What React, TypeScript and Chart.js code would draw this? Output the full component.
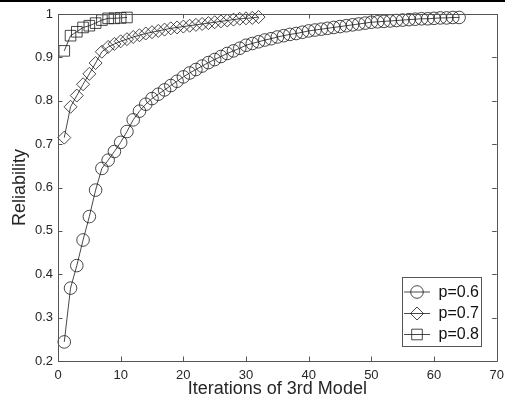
import React, { useEffect, useRef } from "react";
import { Chart, registerables } from "chart.js";

Chart.register(...registerables);

// Reliability values per iteration (iteration index = position + 1)
const p06 = [
  0.244, 0.368, 0.420, 0.479, 0.533, 0.594, 0.644, 0.663, 0.683, 0.704,
  0.729, 0.756, 0.776, 0.792, 0.805, 0.815, 0.825, 0.835, 0.845, 0.855,
  0.864, 0.872, 0.880, 0.888, 0.895, 0.902, 0.909, 0.915, 0.921, 0.928,
  0.932, 0.936, 0.940, 0.943, 0.947, 0.950, 0.953, 0.955, 0.958, 0.961,
  0.963, 0.965, 0.967, 0.969, 0.971, 0.973, 0.975, 0.977, 0.979, 0.981,
  0.982, 0.983, 0.984, 0.985, 0.986, 0.987, 0.988, 0.989, 0.989, 0.990,
  0.991, 0.991, 0.992, 0.992,
];
const p07 = [
  0.715, 0.786, 0.812, 0.838, 0.862, 0.887, 0.913, 0.924, 0.931, 0.937,
  0.942, 0.947, 0.951, 0.955, 0.958, 0.961, 0.964, 0.967, 0.969, 0.971,
  0.973, 0.975, 0.977, 0.979, 0.981, 0.983, 0.985, 0.987, 0.989, 0.990,
  0.991, 0.993,
];
const p08 = [
  0.915, 0.950, 0.959, 0.969, 0.973, 0.979, 0.986, 0.990, 0.990, 0.991,
  0.992,
];

const seriesLabels = ["p=0.6", "p=0.7", "p=0.8"];
const seriesStyles = ["circle", "rectRot", "rect"];
const xTicks = [0, 10, 20, 30, 40, 50, 60, 70];
const yTicks = [0.2, 0.3, 0.4, 0.5, 0.6, 0.7, 0.8, 0.9, 1];
const yTickLabels = ["0.2", "0.3", "0.4", "0.5", "0.6", "0.7", "0.8", "0.9", "1"];
const xTitle = "Iterations of 3rd Model";
const yTitle = "Reliability";

const FONT = "'Liberation Sans', Arial, Helvetica, sans-serif";
const AXIS = "#555555";
const INK = "#1a1a1a";

const toPoints = (arr: number[]) => arr.map((v, i) => ({ x: i + 1, y: v }));

function drawMarker(ctx: CanvasRenderingContext2D, style: string, x: number, y: number, r: number) {
  ctx.beginPath();
  if (style === "circle") {
    ctx.arc(x, y, r, 0, Math.PI * 2);
  } else if (style === "rectRot") {
    ctx.moveTo(x, y - r);
    ctx.lineTo(x + r, y);
    ctx.lineTo(x, y + r);
    ctx.lineTo(x - r, y);
    ctx.closePath();
  } else {
    const s = r * Math.SQRT1_2;
    ctx.rect(x - s, y - s, 2 * s, 2 * s);
  }
  ctx.stroke();
}

const markerRadius: Record<string, number> = { circle: 6.3, rectRot: 6.5, rect: 7.5 };

const framePlugin = {
  id: "matlabFrame",
  afterDraw(chart: any) {
    const ctx: CanvasRenderingContext2D = chart.ctx;
    const { left, right, top, bottom } = chart.chartArea;
    const xs = chart.scales.x;
    const ys = chart.scales.y;
    ctx.save();
    // figure top border artifact
    ctx.strokeStyle = "#000";
    ctx.lineWidth = 2;
    ctx.beginPath();
    ctx.moveTo(0, 1);
    ctx.lineTo(chart.width, 1);
    ctx.stroke();
    // axes box
    ctx.strokeStyle = AXIS;
    ctx.lineWidth = 1;
    ctx.beginPath();
    ctx.rect(Math.round(left) + 0.5, Math.round(top) + 0.5, Math.round(right - left), Math.round(bottom - top));
    ctx.stroke();
    // inward ticks
    const tl = 4.5;
    ctx.beginPath();
    xTicks.forEach((v) => {
      const px = Math.round(xs.getPixelForValue(v)) + 0.5;
      ctx.moveTo(px, bottom);
      ctx.lineTo(px, bottom - tl);
      ctx.moveTo(px, top);
      ctx.lineTo(px, top + tl);
    });
    yTicks.forEach((v) => {
      const py = Math.round(ys.getPixelForValue(v)) + 0.5;
      ctx.moveTo(left, py);
      ctx.lineTo(left + tl, py);
      ctx.moveTo(right, py);
      ctx.lineTo(right - tl, py);
    });
    ctx.stroke();

    // legend
    const lx0 = 402.5, ly0 = 277.5, lw = 79, lh = 69;
    ctx.fillStyle = "#ffffff";
    ctx.fillRect(lx0, ly0, lw, lh);
    ctx.strokeStyle = AXIS;
    ctx.lineWidth = 1;
    ctx.strokeRect(lx0, ly0, lw, lh);
    const rows = [292, 313.5, 334.5];
    ctx.font = `16px ${FONT}`;
    ctx.textBaseline = "middle";
    ctx.textAlign = "left";
    seriesLabels.forEach((lab, i) => {
      const y = rows[i];
      ctx.strokeStyle = INK;
      ctx.lineWidth = 0.8;
      ctx.beginPath();
      ctx.moveTo(404, y);
      ctx.lineTo(430, y);
      ctx.stroke();
      drawMarker(ctx, seriesStyles[i], 417, y, markerRadius[seriesStyles[i]]);
      ctx.fillStyle = "#111";
      ctx.fillText(lab, 438.5, y + 0.5);
    });
    ctx.restore();
  },
};

export default function App() {
  const canvasRef = useRef<HTMLCanvasElement | null>(null);

  useEffect(() => {
    const canvas = canvasRef.current;
    if (!canvas) return;
    const data = [p06, p07, p08];
    const chart = new Chart(canvas, {
      type: "line",
      data: {
        datasets: data.map((arr, i) => ({
          label: seriesLabels[i],
          data: toPoints(arr),
          borderColor: INK,
          borderWidth: 0.8,
          backgroundColor: "rgba(0,0,0,0)",
          pointStyle: seriesStyles[i] as any,
          pointRadius: markerRadius[seriesStyles[i]],
          pointBorderColor: INK,
          pointBorderWidth: 0.8,
          pointBackgroundColor: "rgba(0,0,0,0)",
          tension: 0,
          fill: false,
          clip: false as any,
        })),
      },
      options: {
        animation: false,
        responsive: false,
        maintainAspectRatio: false,
        events: [],
        layout: { padding: { left: 0, top: 14, right: 7, bottom: 0 } },
        plugins: {
          legend: { display: false },
          tooltip: { enabled: false },
        },
        scales: {
          x: {
            type: "linear",
            min: 0,
            max: 70,
            grid: { display: false, drawTicks: false },
            border: { display: false },
            afterBuildTicks: (scale: any) => {
              scale.ticks = xTicks.map((v) => ({ value: v }));
            },
            ticks: {
              font: { family: FONT, size: 13 },
              color: "#262626",
              padding: 7,
              maxRotation: 0,
              callback: (v: any) => String(v),
            },
            title: {
              display: true,
              text: xTitle,
              font: { family: FONT, size: 18 },
              color: "#262626",
              padding: { top: 0, bottom: 8 },
            },
            afterFit: (scale: any) => {
              scale.height = 47;
              scale.paddingLeft = 0;
              scale.paddingRight = 0;
            },
          },
          y: {
            type: "linear",
            min: 0.2,
            max: 1,
            grid: { display: false, drawTicks: false },
            border: { display: false },
            afterBuildTicks: (scale: any) => {
              scale.ticks = yTicks.map((v) => ({ value: v }));
            },
            ticks: {
              font: { family: FONT, size: 13 },
              color: "#262626",
              padding: 5,
              callback: (_v: any, i: number) => yTickLabels[i],
            },
            title: {
              display: true,
              text: yTitle,
              font: { family: FONT, size: 18 },
              color: "#262626",
              padding: { top: 9, bottom: 0 },
            },
            afterFit: (scale: any) => {
              scale.width = 58;
              scale.paddingTop = 0;
              scale.paddingBottom = 0;
            },
          },
        },
      },
      plugins: [framePlugin],
    });
    return () => chart.destroy();
  }, []);

  return (
    <div style={{ position: "absolute", left: 0, top: 0, width: 505, height: 408, background: "#fff" }}>
      <canvas ref={canvasRef} width={505} height={408} style={{ width: 505, height: 408, display: "block" }} />
    </div>
  );
}
